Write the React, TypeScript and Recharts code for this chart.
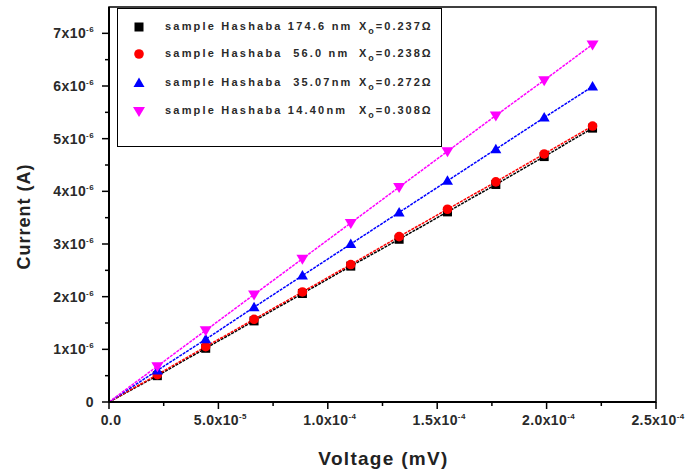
import React from "react";
import {
  LineChart,
  Line,
  XAxis,
  YAxis,
  Legend,
  Label,
  ReferenceArea,
} from "recharts";

// voltage (mV) at each measurement
const voltage = [
  0, 2.21e-5, 4.42e-5, 6.63e-5, 8.84e-5, 1.105e-4, 1.326e-4, 1.547e-4,
  1.768e-4, 1.989e-4, 2.21e-4,
];

// current (A) per sample
const sample174 = [
  0, 0.5e-6, 1.02e-6, 1.54e-6, 2.06e-6, 2.58e-6, 3.09e-6, 3.61e-6, 4.13e-6,
  4.66e-6, 5.2e-6,
];
const sample56 = [
  0, 0.52e-6, 1.05e-6, 1.57e-6, 2.09e-6, 2.61e-6, 3.14e-6, 3.66e-6, 4.18e-6,
  4.71e-6, 5.24e-6,
];
const sample35 = [
  0, 0.6e-6, 1.19e-6, 1.8e-6, 2.4e-6, 3.0e-6, 3.6e-6, 4.2e-6, 4.8e-6, 5.4e-6,
  5.99e-6,
];
const sample14 = [
  0, 0.68e-6, 1.36e-6, 2.04e-6, 2.72e-6, 3.4e-6, 4.08e-6, 4.76e-6, 5.44e-6,
  6.11e-6, 6.79e-6,
];

const seriesNames = [
  "sample Hashaba 174.6 nm",
  "sample Hashaba  56.0 nm",
  "sample Hashaba  35.07nm",
  "sample Hashaba 14.40nm",
];
const seriesX0 = ["0.237", "0.238", "0.272", "0.308"];

const xTicks = [
  0, 2.5e-5, 5e-5, 7.5e-5, 1e-4, 1.25e-4, 1.5e-4, 1.75e-4, 2e-4, 2.25e-4,
  2.5e-4,
];
const xTickLabels = [
  ["0.0", ""],
  ["5.0x10", "-5"],
  ["1.0x10", "-4"],
  ["1.5x10", "-4"],
  ["2.0x10", "-4"],
  ["2.5x10", "-4"],
];
const yTicks = [
  0, 0.5e-6, 1e-6, 1.5e-6, 2e-6, 2.5e-6, 3e-6, 3.5e-6, 4e-6, 4.5e-6, 5e-6,
  5.5e-6, 6e-6, 6.5e-6, 7e-6,
];
const yTickLabels = [
  ["0", ""],
  ["1x10", "-6"],
  ["2x10", "-6"],
  ["3x10", "-6"],
  ["4x10", "-6"],
  ["5x10", "-6"],
  ["6x10", "-6"],
  ["7x10", "-6"],
];

const data = voltage.map((v, i) => ({
  v,
  s174: sample174[i],
  s56: sample56[i],
  s35: sample35[i],
  s14: sample14[i],
}));

const series = [
  { key: "s174", color: "#000000", shape: "square" },
  { key: "s56", color: "#ff0000", shape: "circle" },
  { key: "s35", color: "#0000ff", shape: "up" },
  { key: "s14", color: "#ff00ff", shape: "down" },
];

const FONT = "'Liberation Sans', Arial, sans-serif";
const TXT = "#2a2a2a";

function Marker({ cx, cy, shape, color }: any) {
  if (shape === "square")
    return <rect x={cx - 4.5} y={cy - 4.5} width={9} height={9} fill={color} />;
  if (shape === "circle")
    return <circle cx={cx} cy={cy} r={4.8} fill={color} />;
  if (shape === "up")
    return (
      <polygon
        points={`${cx},${cy - 5.5} ${cx + 5.5},${cy + 4} ${cx - 5.5},${cy + 4}`}
        fill={color}
      />
    );
  return (
    <polygon
      points={`${cx - 6},${cy - 4} ${cx + 6},${cy - 4} ${cx},${cy + 6}`}
      fill={color}
    />
  );
}

function XTick(props: any) {
  const { x, y, index } = props;
  const major = index % 2 === 0;
  const lab = major ? xTickLabels[index / 2] : null;
  return (
    <g>
      <line x1={x} x2={x} y1={y} y2={y + (major ? 7 : 4)} stroke="#000" strokeWidth={1.5} />
      {lab && (
        <text
          x={x + 2}
          y={y + 23}
          textAnchor="middle"
          fontFamily={FONT}
          fontWeight="bold"
          fontSize={14}
          letterSpacing={0.4}
          fill={TXT}
        >
          {lab[0]}
          {lab[1] && (
            <tspan dy={-6} fontSize={8}>
              {lab[1]}
            </tspan>
          )}
        </text>
      )}
    </g>
  );
}

function YTick(props: any) {
  const { x, y, index } = props;
  const major = index % 2 === 0;
  const lab = major ? yTickLabels[index / 2] : null;
  return (
    <g>
      <line x1={x - (major ? 7 : 4)} x2={x} y1={y} y2={y} stroke="#000" strokeWidth={1.5} />
      {lab && (
        <text
          x={x - 15}
          y={y + 5}
          textAnchor="end"
          fontFamily={FONT}
          fontWeight="bold"
          fontSize={14}
          letterSpacing={0.4}
          fill={TXT}
        >
          {lab[0]}
          {lab[1] && (
            <tspan dy={-6} fontSize={8}>
              {lab[1]}
            </tspan>
          )}
        </text>
      )}
    </g>
  );
}

function LegendBox() {
  return (
    <div
      style={{
        width: 325,
        height: 139,
        boxSizing: "border-box",
        border: "1.5px solid #000",
        background: "#fff",
        position: "relative",
        fontFamily: FONT,
        fontWeight: "bold",
        fontSize: 11,
        color: TXT,
      }}
    >
      {series.map((s, i) => {
        const top = [18, 45, 74, 102][i];
        return (
          <React.Fragment key={s.key}>
            <svg
              width={16}
              height={16}
              style={{ position: "absolute", left: 13, top: top - 8 }}
            >
              <Marker cx={8} cy={8} shape={s.shape} color={s.color} />
            </svg>
            <span
              style={{
                position: "absolute",
                left: 47,
                top: top - 7,
                whiteSpace: "pre",
                letterSpacing: 2.2,
              }}
            >
              {seriesNames[i]}
            </span>
            <span
              style={{
                position: "absolute",
                left: 241,
                top: top - 7,
                whiteSpace: "pre",
                letterSpacing: 2,
              }}
            >
              X<sub style={{ fontSize: 9, verticalAlign: -4 }}>o</sub>={seriesX0[i]}Ω
            </span>
          </React.Fragment>
        );
      })}
    </div>
  );
}

export default function App() {
  return (
    <div style={{ position: "absolute", left: 0, top: 0, background: "#fff" }}>
      <LineChart
        width={690}
        height={472}
        data={data}
        margin={{ top: 7, right: 34, left: 10, bottom: 30 }}
      >
        <ReferenceArea
          x1={0}
          x2={2.5e-4}
          y1={0}
          y2={7.5e-6}
          fill="none"
          stroke="#000"
          strokeWidth={1.5}
        />
        <XAxis
          dataKey="v"
          type="number"
          domain={[0, 2.5e-4]}
          ticks={xTicks}
          interval={0}
          tick={<XTick />}
          tickLine={false}
          tickSize={0}
          tickMargin={0}
          height={40}
          axisLine={{ stroke: "#000", strokeWidth: 2 }}
        >
          <Label
            content={(p: any) => {
              const vb = p.viewBox;
              return (
                <text
                  x={vb.x + vb.width / 2 + 1}
                  y={458}
                  textAnchor="middle"
                  dominantBaseline="central"
                  fontFamily={FONT}
                  fontWeight="bold"
                  fontSize={19}
                  letterSpacing={1.3}
                  fill="#222"
                >
                  Voltage (mV)
                </text>
              );
            }}
          />
        </XAxis>
        <YAxis
          type="number"
          domain={[0, 7.5e-6]}
          ticks={yTicks}
          interval={0}
          tick={<YTick />}
          tickLine={false}
          tickSize={0}
          tickMargin={0}
          width={99}
          axisLine={{ stroke: "#000", strokeWidth: 2 }}
        >
          <Label
            content={(p: any) => {
              const vb = p.viewBox;
              const cy = vb.y + vb.height / 2 + 12;
              return (
                <text
                  x={24}
                  y={cy}
                  transform={`rotate(-90, 24, ${cy})`}
                  textAnchor="middle"
                  dominantBaseline="central"
                  fontFamily={FONT}
                  fontWeight="bold"
                  fontSize={18}
                  letterSpacing={1}
                  fill="#222"
                >
                  Current (A)
                </text>
              );
            }}
          />
        </YAxis>
        <Legend
          layout="vertical"
          align="center"
          verticalAlign="middle"
          wrapperStyle={{ left: 117, top: 8, width: 325, height: 139 }}
          content={() => <LegendBox />}
        />
        {series.map((s) => (
          <Line
            key={s.key}
            dataKey={s.key}
            stroke={s.color}
            strokeWidth={1.5}
            strokeDasharray="3 1"
            isAnimationActive={false}
            dot={(p: any) =>
              p.index === 0 ? (
                <g key={p.key ?? p.index} />
              ) : (
                <Marker key={p.key ?? p.index} cx={p.cx} cy={p.cy} shape={s.shape} color={s.color} />
              )
            }
            activeDot={false}
          />
        ))}
      </LineChart>
    </div>
  );
}
